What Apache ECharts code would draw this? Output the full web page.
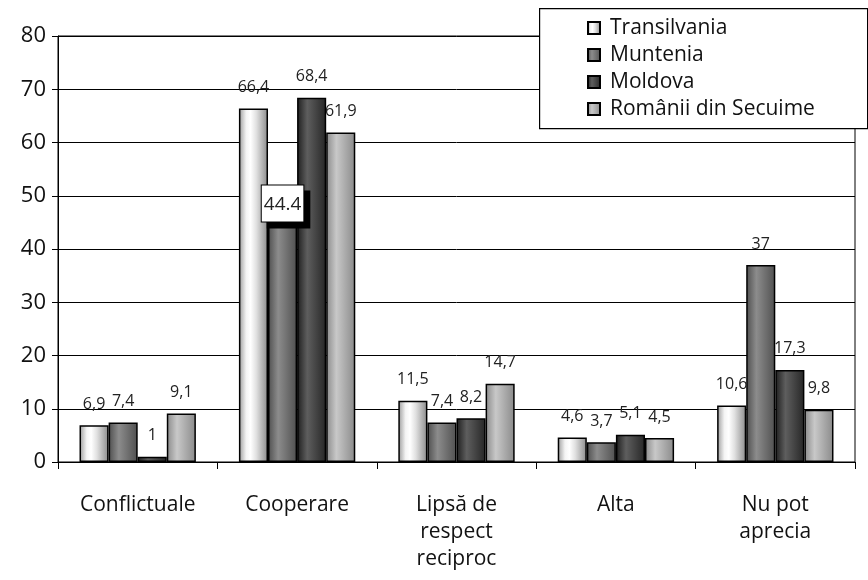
<!DOCTYPE html>
<html><head><meta charset="utf-8">
<script src="https://cdn.jsdelivr.net/npm/echarts@6/dist/echarts.min.js"></script>
<style>html,body{margin:0;padding:0;background:#fff}#c{width:868px;height:580px}</style>
</head><body><div id="c"></div>
<script>
const categories = ['Conflictuale', 'Cooperare', 'Lipsă de\nrespect\nreciproc', 'Alta', 'Nu pot\naprecia'];
const seriesNames = ['Transilvania', 'Muntenia', 'Moldova', 'Românii din Secuime'];
const transilvania = [6.9, 66.4, 11.5, 4.6, 10.6];
const muntenia = [7.4, 44.4, 7.4, 3.7, 37];
const moldova = [1, 68.4, 8.2, 5.1, 17.3];
const secuime = [9.1, 61.9, 14.7, 4.5, 9.8];
const yTicks = [0, 10, 20, 30, 40, 50, 60, 70, 80];

const FONT = 'Open Sans';
function grad(stops) {
  return new echarts.graphic.LinearGradient(0, 0, 1, 0, stops.map(c => ({offset: c[0], color: c[1]})));
}
const colors = [
  grad([[0, '#9a9a9a'], [0.25, '#f4f4f4'], [0.4, '#ffffff'], [0.6, '#e0e0e0'], [1, '#8a8a8a']]),
  grad([[0, '#4e4e4e'], [0.35, '#8c8c8c'], [1, '#505050']]),
  grad([[0, '#1e1e1e'], [0.35, '#5e5e5e'], [1, '#262626']]),
  grad([[0, '#8a8a8a'], [0.35, '#c8c8c8'], [1, '#8a8a8a']])
];
const fmt = p => String(p.value).replace('.', ',');
const allData = [transilvania, muntenia, moldova, secuime];

const series = allData.map((d, si) => ({
  name: seriesNames[si],
  type: 'bar',
  barGap: '0%',
  barCategoryGap: '27%',
  itemStyle: {color: colors[si], borderColor: '#000', borderWidth: 1.5},
  label: {show: true, position: 'top', distance: 13, fontFamily: FONT, fontSize: 16, color: '#222', formatter: fmt},
  data: d.map((v, i) => {
    if (si === 1 && i === 1) {
      return {value: v, label: {formatter: String(v), fontSize: 19, color: '#222', backgroundColor: '#fff', borderColor: '#000', borderWidth: 1,
        padding: [10, 2, 7, 2], shadowColor: '#000', shadowOffsetX: 6, shadowOffsetY: 6, shadowBlur: 0, distance: 4}};
    }
    return v;
  })
}));

const chart = echarts.init(document.getElementById('c'), null, {renderer: 'canvas'});
chart.setOption({
  animation: false,
  backgroundColor: '#fff',
  grid: {left: 58, right: 13, top: 36, bottom: 118, show: true, borderColor: '#000', borderWidth: 1},
  graphic: [{
    type: 'rect', z: 5, left: 539, top: 8,
    shape: {width: 328, height: 120},
    style: {fill: '#fff', stroke: '#000', lineWidth: 1.2}
  }],
  legend: {
    orient: 'vertical', left: 587, top: 17, z: 10,
    padding: 0, itemGap: 5, itemWidth: 12, itemHeight: 12, icon: 'rect',
    textStyle: {fontFamily: FONT, fontSize: 21, lineHeight: 22, color: '#111', padding: [0, 0, 0, 5]},
    data: seriesNames
  },
  xAxis: {
    type: 'category', data: categories,
    axisLine: {lineStyle: {color: '#000', width: 1}},
    axisTick: {show: true, length: 7, lineStyle: {color: '#000'}},
    axisLabel: {fontFamily: FONT, fontSize: 21, color: '#111', lineHeight: 27, margin: 30}
  },
  yAxis: {
    type: 'value', min: yTicks[0], max: yTicks[yTicks.length - 1], interval: 10,
    axisLine: {show: true, lineStyle: {color: '#000'}},
    axisTick: {show: true, length: 6, lineStyle: {color: '#000'}},
    axisLabel: {fontFamily: FONT, fontSize: 22, color: '#111', margin: 12},
    splitLine: {lineStyle: {color: '#000', width: 1}}
  },
  series: series
});
</script></body></html>
